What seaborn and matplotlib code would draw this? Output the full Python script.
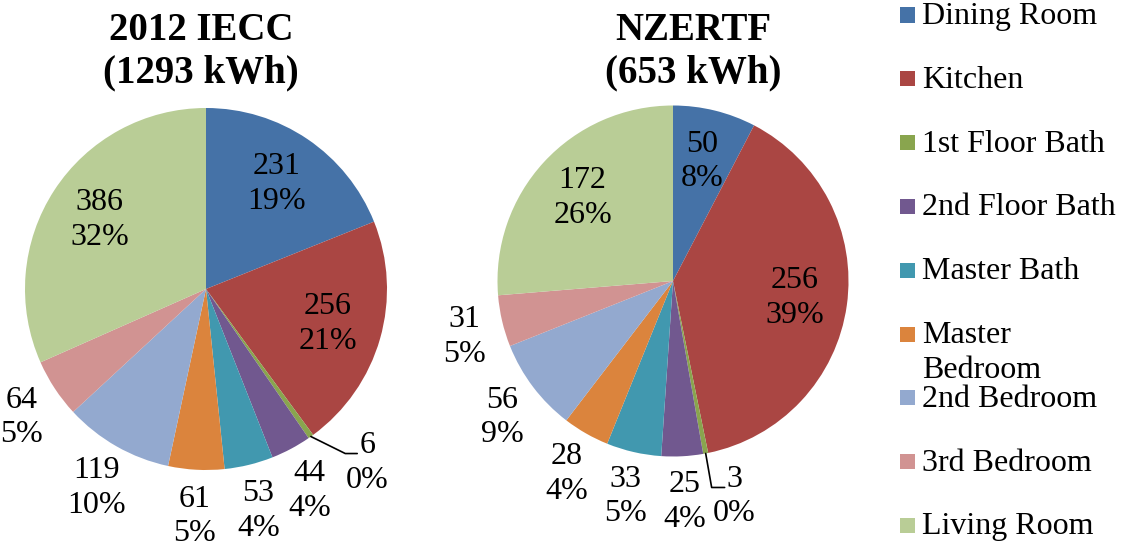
import numpy as np
import matplotlib
matplotlib.use("Agg")
import matplotlib.pyplot as plt
import seaborn as sns

# data
rooms = ["Dining Room", "Kitchen", "1st Floor Bath", "2nd Floor Bath", "Master Bath",
         "Master\nBedroom", "2nd Bedroom", "3rd Bedroom", "Living Room"]
iecc_kwh = [231, 256, 6, 44, 53, 61, 119, 64, 386]
nzertf_kwh = [50, 256, 3, 25, 33, 28, 56, 31, 172]
titles = ["2012 IECC\n(1293 kWh)", "NZERTF\n(653 kWh)"]

room_colors = ["#4572A7", "#AA4643", "#89A54E", "#71588F", "#4198AF",
               "#DB843D", "#93A9CF", "#D19392", "#B9CD96"]

sns.set_theme(style="white")
plt.rcParams["font.family"] = ["Liberation Serif", "DejaVu Serif"]
plt.rcParams["text.color"] = "black"

W, H = 1122, 541
fig = plt.figure(figsize=(W / 100, H / 100), dpi=100)
palette = sns.color_palette(room_colors)

LABEL_FS = 23
LS = 1.25


def draw_pie(values, cx, cy, r, title, title_x, inside, leader):
    ax = fig.add_axes([(cx - r) / W, (H - cy - r) / H, 2 * r / W, 2 * r / H])
    wedges, _ = ax.pie(values, colors=palette, startangle=90, counterclock=False,
                       radius=1.0, wedgeprops=dict(linewidth=0))
    ax.set_xlim(-1, 1)
    ax.set_ylim(-1, 1)
    ax.axis("off")
    total = sum(values)
    for i, (w, v) in enumerate(zip(wedges, values)):
        frac = v / total
        ang = np.deg2rad((w.theta1 + w.theta2) / 2)
        txt = f"{v}\n{round(frac * 100)}%"
        if frac < 0.01:
            dx, dy, h = leader
            x0, y0 = np.cos(ang), np.sin(ang)
            x1, y1 = x0 + dx, y0 + dy
            ax.plot([x0, x1, x1 + h], [y0, y1, y1], color="black", lw=1.2,
                    clip_on=False)
            ax.text(x1 + h + 0.056, y1 - 0.052, txt, ha="center", va="center",
                    fontsize=LABEL_FS, linespacing=LS)
        elif i in inside:
            ax.text(0.7 * np.cos(ang), 0.7 * np.sin(ang), txt, ha="center",
                    va="center", fontsize=LABEL_FS, linespacing=LS)
        else:
            ax.text(1.22 * np.cos(ang), 1.22 * np.sin(ang) - 0.04, txt,
                    ha="center", va="center", fontsize=LABEL_FS, linespacing=LS)
    fig.text(title_x / W, 1 - 52 / H, title, ha="center", va="center",
             fontsize=28, fontweight="bold", linespacing=1.2)


draw_pie(iecc_kwh, 206, 289, 181, titles[0], 201, {0, 1, 8},
         (0.19, -0.094, 0.066))
draw_pie(nzertf_kwh, 673, 281, 175.5, titles[1], 693, {0, 1, 8},
         (0.034, -0.194, 0.074))

# legend, one entry per row like the spreadsheet layout
for i, (room, col) in enumerate(zip(rooms, palette)):
    y = 15 + i * 63.8
    fig.patches.append(plt.Rectangle((900 / W, 1 - (y + 7.5) / H), 15 / W, 15 / H,
                                     facecolor=col, edgecolor="none",
                                     transform=fig.transFigure, figure=fig))
    fig.text(922 / W, 1 - (y - 13) / H, room, ha="left", va="top",
             fontsize=LABEL_FS, linespacing=LS)

fig.savefig("out.png", dpi=100)
